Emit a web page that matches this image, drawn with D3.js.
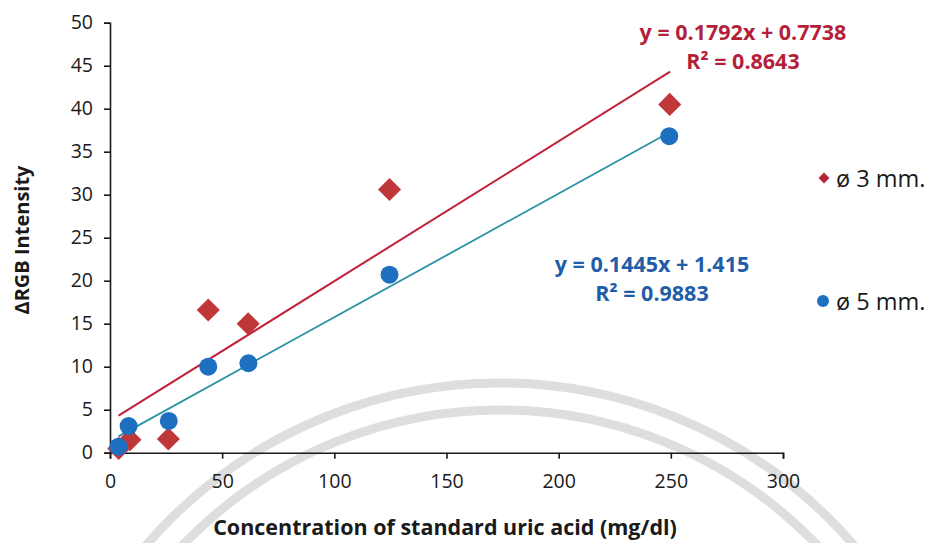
<!DOCTYPE html>
<html>
<head>
<meta charset="utf-8">
<script src="https://cdn.jsdelivr.net/npm/d3@7"></script>
<style>
    body { margin: 0; background: #fff; }
    text { font-family: "Open Sans", "Noto Sans", sans-serif; }
</style>
</head>
<body>
<svg id="chart" width="933" height="543"></svg>
<script>
// values
const xTicks = [0, 50, 100, 150, 200, 250, 300]
const yTicks = [0, 5, 10, 15, 20, 25, 30, 35, 40, 45, 50]

const conc3 = [3.9, 8.9, 26, 43.8, 61.6, 124.6, 249.5]
const rgb3 = [0.5, 1.5, 1.6, 16.6, 15.0, 30.6, 40.5]
const conc5 = [3.8, 8.3, 26.2, 43.8, 61.7, 124.6, 249.3]
const rgb5 = [0.7, 3.1, 3.7, 10.0, 10.4, 20.7, 36.8]

// trend line ends as drawn in the picture
const trend3 = [[3.8, 4.3], [249.7, 44.3]]
const trend5 = [[3.8, 1.9], [249.7, 37.3]]

const eq3 = ["y = 0.1792x + 0.7738", "R² = 0.8643"]
const eq5 = ["y = 0.1445x + 1.415", "R² = 0.9883"]
const seriesNames = ["ø 3 mm.", "ø 5 mm."]

const red = "#c0373a"
const blue = "#1f6fc0"

const svg = d3.select("#chart")

// faint watermark arcs behind the plot
const wm = svg.append("g").attr("fill", "none").attr("stroke", "#dedede").attr("stroke-width", 9)
wm.append("circle").attr("cx", 500).attr("cy", 850).attr("r", 467)
wm.append("circle").attr("cx", 500).attr("cy", 850).attr("r", 440)

const plotL = 110, plotR = 783, plotT = 22.7, plotB = 452.7

const x = d3.scaleLinear().domain([0, 300]).range([plotL, plotR])
const y = d3.scaleLinear().domain([0, 50]).range([plotB, plotT])

const yAxis = svg.append("g")
    .attr("transform", `translate(${plotL},0)`)
    .call(d3.axisLeft(y).tickValues(yTicks).tickSize(6).tickPadding(11))
const xAxis = svg.append("g")
    .attr("transform", `translate(0,${plotB})`)
    .call(d3.axisBottom(x).tickValues(xTicks).tickSize(6).tickPadding(15))

for (const a of [xAxis, yAxis]) {
    a.select(".domain").attr("stroke", "#1a1a1a").attr("stroke-width", 1.6)
    a.selectAll(".tick line").attr("stroke", "#1a1a1a").attr("stroke-width", 1.6)
    a.selectAll(".tick text")
        .attr("fill", "#1a1a1a")
        .style("font-size", "19.5px")
        .style("font-family", "'Open Sans', sans-serif")
}

const line = d3.line().x((d) => x(d[0])).y((d) => y(d[1]))

svg.append("path")
    .datum(trend3)
    .attr("fill", "none")
    .attr("stroke", "#c0203a")
    .attr("stroke-width", 2)
    .attr("d", line)

svg.append("path")
    .datum(trend5)
    .attr("fill", "none")
    .attr("stroke", "#2a93a3")
    .attr("stroke-width", 1.8)
    .attr("d", line)

const diamond = d3.symbol().type(d3.symbolDiamond2).size(340)

svg.append("g")
    .selectAll("path")
    .data(conc3.map((c, i) => [c, rgb3[i]]))
    .join("path")
    .attr("d", diamond)
    .attr("transform", (d) => `translate(${x(d[0])},${y(d[1])})`)
    .attr("fill", red)

svg.append("g")
    .selectAll("circle")
    .data(conc5.map((c, i) => [c, rgb5[i]]))
    .join("circle")
    .attr("cx", (d) => x(d[0]))
    .attr("cy", (d) => y(d[1]))
    .attr("r", 9)
    .attr("fill", blue)

// equations
const eqs = [
    { lines: eq3, x: 743, y: 40, color: "#b41f3a" },
    { lines: eq5, x: 652, y: 272, color: "#1f5da8" },
]
for (const e of eqs) {
    svg.append("g")
        .selectAll("text")
        .data(e.lines)
        .join("text")
        .attr("x", e.x)
        .attr("y", (_, i) => e.y + i * 29)
        .attr("text-anchor", "middle")
        .attr("fill", e.color)
        .style("font-size", "21.5px")
        .style("font-weight", "bold")
        .text((d) => d)
}

// legend
const legend = svg.append("g")
legend.append("path")
    .attr("d", d3.symbol().type(d3.symbolDiamond2).size(75))
    .attr("transform", "translate(824,178)")
    .attr("fill", "#b52538")
legend.append("circle").attr("cx", 823).attr("cy", 301).attr("r", 6).attr("fill", blue)
legend.selectAll("text")
    .data(seriesNames)
    .join("text")
    .attr("x", 836)
    .attr("y", (_, i) => [187, 310][i])
    .attr("fill", "#1a1a1a")
    .style("font-size", "23.5px")
    .text((d) => d)

// axis titles
svg.append("text")
    .attr("x", 445)
    .attr("y", 535)
    .attr("text-anchor", "middle")
    .attr("fill", "#1a1a1a")
    .style("font-size", "21.5px")
    .style("font-weight", "bold")
    .text("Concentration of standard uric acid (mg/dl)")

svg.append("text")
    .attr("transform", "translate(29,240) rotate(-90)")
    .attr("text-anchor", "middle")
    .attr("fill", "#1a1a1a")
    .style("font-size", "20px")
    .style("font-weight", "bold")
    .text("ΔRGB Intensity")
</script>
</body>
</html>
